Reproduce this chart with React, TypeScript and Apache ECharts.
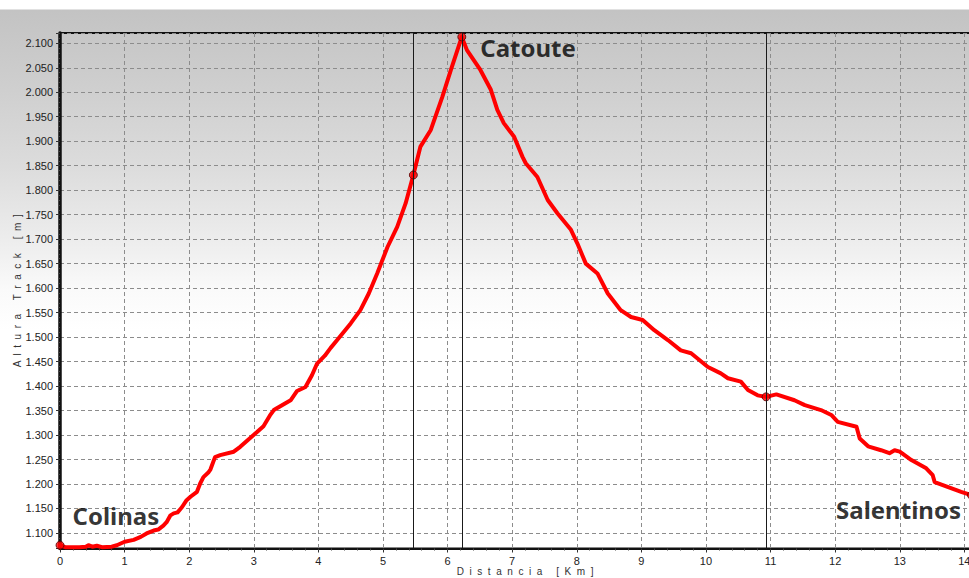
import React, { useEffect, useRef } from "react";
import * as echarts from "echarts";

// Track profile: distance (km) and altitude (m)
const distanceKm = [
  0.0, 0.08, 0.3, 0.4, 0.44, 0.5, 0.57, 0.65, 0.8, 0.88, 1.0, 1.14, 1.25, 1.34, 1.45, 1.52, 1.6, 1.65, 1.71, 1.76,
  1.82, 1.89, 1.96, 2.02, 2.12, 2.17, 2.22, 2.3, 2.33, 2.4, 2.48, 2.69, 2.79, 2.9, 3.05, 3.15, 3.25, 3.31, 3.45, 3.57,
  3.67, 3.8, 3.9, 3.98, 4.1, 4.19, 4.31, 4.5, 4.65, 4.78, 4.91, 5.07, 5.22, 5.35, 5.47, 5.58, 5.74, 5.92, 6.05, 6.17,
  6.22, 6.3, 6.51, 6.67, 6.77, 6.87, 7.03, 7.16, 7.21, 7.39, 7.55, 7.7, 7.91, 8.01, 8.14, 8.32, 8.48, 8.68, 8.84, 9.02,
  9.2, 9.41, 9.61, 9.77, 10.03, 10.23, 10.34, 10.54, 10.65, 10.8, 10.93, 11.09, 11.37, 11.53, 11.78, 11.94, 12.04,
  12.33, 12.38, 12.51, 12.71, 12.84, 12.92, 13.0, 13.18, 13.41, 13.51, 13.54, 13.74, 13.95, 14.11,
];
const altitudeM = [
  1075, 1071, 1071, 1072, 1075, 1072, 1074, 1071, 1072, 1075, 1082, 1086, 1092, 1099, 1105, 1107, 1115, 1122, 1136, 1140,
  1142, 1153, 1167, 1174, 1184, 1201, 1214, 1224, 1230, 1255, 1259, 1266, 1276, 1289, 1306, 1318, 1340, 1351, 1362, 1371,
  1390, 1398, 1422, 1446, 1462, 1478, 1497, 1528, 1555, 1589, 1630, 1684, 1725, 1773, 1831, 1889, 1923, 1991, 2045, 2093,
  2113, 2086, 2045, 2005, 1964, 1937, 1909, 1868, 1855, 1827, 1780, 1753, 1719, 1691, 1650, 1630, 1589, 1555, 1541, 1535,
  1514, 1494, 1473, 1467, 1439, 1426, 1416, 1409, 1392, 1381, 1378, 1383, 1371, 1361, 1351, 1341, 1327,
  1317, 1293, 1277, 1269, 1263, 1269, 1266, 1249, 1232, 1218, 1204, 1194, 1184, 1177,
];

// Vertical cursor lines (km)
const cursorKm = [5.47, 6.22, 10.93];

// Waypoints
const waypointKm = [0, 5.47, 6.22, 10.93, 14.11];
const waypointM = [1075, 1831, 2113, 1378, 1177];
const waypointNames = ["Colinas", "", "Catoute", "", "Salentinos"];

// Axis ranges
const xMin = 0;
const xMax = 14.4;
const xStep = 1;
const yMin = 1068.3;
const yMax = 2121;
const yStep = 50;

const xAxisTitle = "D  i  s  t  a  n  c  i  a     [  K  m  ]";
const yAxisTitle = "A  l  t  u  r  a     T  r  a  c  k     [  m  ]";

const labelLayout: Record<number, any> = {
  0: { position: "right", distance: 8, offset: [0, -30] },
  2: { position: "right", distance: 14, offset: [0, 11] },
  4: { position: "left", distance: 6, offset: [0, 14] },
};

const fmtAlt = (v: number) => {
  const t = Math.round(v);
  return Math.floor(t / 1000) + "." + String(t % 1000).padStart(3, "0");
};

export default function App() {
  const ref = useRef<HTMLDivElement>(null);

  useEffect(() => {
    if (!ref.current) return;
    const chart = echarts.init(ref.current, undefined, { renderer: "svg" });

    const track = distanceKm.map((d, i) => [d, altitudeM[i]]);
    const points = waypointKm.map((d, i) => {
      const item: any = { value: [d, waypointM[i]] };
      if (waypointNames[i]) {
        item.label = {
          show: true,
          formatter: waypointNames[i],
          ...labelLayout[i],
        };
      }
      return item;
    });

    const axisFont = { fontFamily: "'Liberation Sans', Arial, sans-serif", fontSize: 11, color: "#222" };

    chart.setOption({
      animation: false,
      backgroundColor: "transparent",
      grid: {
        left: 60,
        right: 9.8,
        top: 33,
        bottom: 29.5,
        outerBoundsMode: "none",
        containLabel: false,
        show: true,
        borderColor: "#111",
        borderWidth: 2,
        backgroundColor: "transparent",
      },
      xAxis: {
        type: "value",
        min: xMin,
        max: xMax,
        interval: xStep,
        name: xAxisTitle,
        nameLocation: "middle",
        nameGap: 18,
        nameMoveOverlap: false,
        nameTextStyle: { fontFamily: "'Liberation Sans', Arial, sans-serif", fontSize: 10, color: "#333" },
        axisLine: { show: true, lineStyle: { color: "#111", width: 2 } },
        axisTick: { show: true, length: 4, lineStyle: { color: "#333" } },
        minorTick: { show: true, splitNumber: 5, length: 2, lineStyle: { color: "#444" } },
        axisLabel: { ...axisFont, margin: 7, showMaxLabel: false },
        splitLine: { show: true, lineStyle: { color: "#8c8c8c", type: [4, 3], width: 1 } },
      },
      yAxis: {
        type: "value",
        min: yMin,
        max: yMax,
        splitNumber: 21,
        minInterval: yStep,
        maxInterval: yStep,
        name: yAxisTitle,
        nameLocation: "middle",
        nameRotate: 90,
        nameGap: 38,
        nameMoveOverlap: false,
        nameTextStyle: { fontFamily: "'Liberation Sans', Arial, sans-serif", fontSize: 10, color: "#333" },
        axisLine: { show: true, lineStyle: { color: "#111", width: 3.5 } },
        axisTick: { show: true, length: 4, lineStyle: { color: "#333" } },
        minorTick: { show: true, splitNumber: 5, length: 2, lineStyle: { color: "#444" } },
        axisLabel: { ...axisFont, margin: 7, showMinLabel: false, showMaxLabel: false, formatter: fmtAlt },
        splitLine: { show: true, lineStyle: { color: "#8c8c8c", type: [4, 3], width: 1 } },
      },
      series: [
        {
          type: "line",
          data: [],
          z: 1,
          silent: true,
          markLine: {
            silent: true,
            symbol: ["none", "none"],
            label: { show: false },
            emphasis: { disabled: true },
            lineStyle: { color: "#1a1a1a", width: 1, type: "solid" },
            data: cursorKm.map((v) => ({ xAxis: v })),
          },
        },
        {
          type: "line",
          data: track,
          z: 3,
          showSymbol: false,
          symbol: "none",
          lineStyle: { color: "#ff0000", width: 4, join: "round", cap: "round" },
          itemStyle: { color: "#ff0000" },
        },
        {
          type: "scatter",
          data: points,
          z: 4,
          clip: false,
          symbol: "circle",
          symbolSize: 8,
          itemStyle: { color: "#ff0000", borderColor: "#5a0000", borderWidth: 1 },
          label: {
            show: false,
            fontFamily: "'Comic Sans MS', 'Noto Sans', sans-serif",
            fontWeight: "bold",
            fontSize: 24,
            color: "#000",
          },
        },
      ],
    });

    return () => chart.dispose();
  }, []);

  return (
    <div
      style={{
        position: "fixed",
        left: 0,
        top: 0,
        width: 969,
        height: 578,
        overflow: "hidden",
        background:
          "linear-gradient(to bottom, #ffffff 0px, #ffffff 9px, #c3c3c3 10px, #cfcfcf 90px, #dcdcdc 167px, #eeeeee 245px, #fafafa 290px, #ffffff 330px, #ffffff 578px)",
      }}
    >
      <div ref={ref} style={{ width: 1000, height: 578 }} />
    </div>
  );
}
